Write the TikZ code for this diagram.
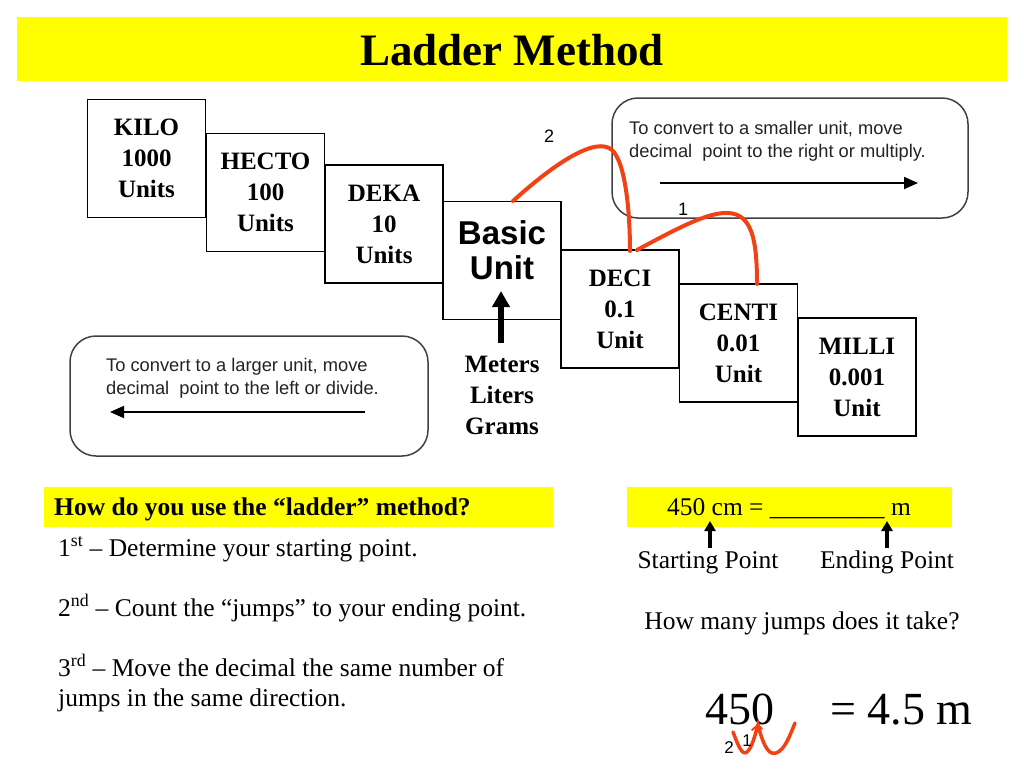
\documentclass[tikz,border=0pt]{standalone}
\usepackage{fontspec}
\setmainfont{Liberation Serif}
\newfontfamily\arialfont{Liberation Sans}
\usetikzlibrary{arrows.meta}
\definecolor{hilite}{RGB}{255,255,0}
\definecolor{jumpred}{RGB}{240,66,20}
\definecolor{notegray}{RGB}{64,64,64}
\definecolor{notetext}{RGB}{35,35,35}
\begin{document}
\begin{tikzpicture}[x=1pt,y=-1pt,
  ladder/.style={draw=black, line width=1.6pt, fill=white, inner sep=0pt,
    minimum width=118pt, minimum height=118pt, align=center,
    font=\fontsize{25}{31}\selectfont\bfseries},
  callout/.style={draw=notegray, line width=1.5pt, rounded corners=26pt,
    minimum width=#1, minimum height=120pt, inner sep=0pt},
  notetxt/.style={anchor=north west, inner sep=0pt, align=left, text=notetext,
    font=\arialfont\fontsize{18.3}{23}\selectfont},
  bar/.style={fill=hilite, draw=none, inner sep=0pt},
  jump/.style={draw=jumpred, line width=4pt, line cap=round},
  jumpnum/.style={inner sep=0pt, font=\arialfont\fontsize{18}{18}\selectfont},
  body/.style={inner sep=0pt, anchor=base west, font=\fontsize{25.5}{30}\selectfont},
  bodyc/.style={inner sep=0pt, anchor=base, font=\fontsize{25.5}{30}\selectfont},
  thinarrow/.style={line width=1.8pt, -{Triangle[width=12pt,length=14pt]}},
  fatarrow/.style={line width=6pt, -{Triangle[width=17pt,length=16pt]}},
  smallarrow/.style={line width=3.5pt, -{Triangle[width=11pt,length=10pt]}}
]
\useasboundingbox (0,0) rectangle (1024,768);

% title bar
\node[bar, minimum width=990pt, minimum height=64pt] (titlebar) at (512,49) {};
\node[inner sep=0pt, anchor=base, font=\fontsize{45}{45}\selectfont\bfseries] (title) at (512,66) {Ladder Method};

% callouts
\node[callout=356pt] (bigger) at (790,158) {};
\node[notetxt] (biggertxt) at (629,121) {To convert to a smaller unit, move\\decimal\ \ point to the right or multiply.};
\coordinate (ra1) at (660,183);
\coordinate (ra2) at (918,183);
\draw[thinarrow] (ra1) -- (ra2);

\node[callout=358pt] (smaller) at (249,396) {};
\node[notetxt] (smallertxt) at (106,358) {To convert to a larger unit, move\\decimal\ \ point to the left or divide.};
\coordinate (la1) at (365,412);
\coordinate (la2) at (110,412);
\draw[thinarrow] (la1) -- (la2);

% ladder
\node[ladder] (kilo) at (146.5,158.5) {KILO\\1000\\Units};
\node[ladder] (hecto) at (265.5,192.5) {HECTO\\100\\Units};
\node[ladder] (deka) at (384,224) {DEKA\\10\\Units};
\node[ladder] (basic) at (502,260.5) {};
\node[inner sep=0pt, align=center, font=\arialfont\bfseries\fontsize{33}{35}\selectfont] (basictxt) at (502,250) {Basic\\Unit};
\node[ladder] (deci) at (620,309) {DECI\\0.1\\Unit};
\node[ladder] (centi) at (738.5,343) {CENTI\\0.01\\Unit};
\node[ladder] (milli) at (857,377) {MILLI\\0.001\\Unit};

\node[inner sep=0pt, align=center, font=\fontsize{25}{31}\selectfont\bfseries] (mlg) at (502,395) {Meters\\Liters\\Grams};
\coordinate (ba1) at (501,343);
\coordinate (ba2) at (501,291);
\draw[fatarrow] (ba1) -- (ba2);

% jumps
\coordinate (j1s) at (513,201);
\coordinate (j1e) at (630,251);
\coordinate (j2s) at (637,250);
\coordinate (j2e) at (757,284);
\draw[jump] (j1s) .. controls (555,163) and (596,136) .. (612,150) .. controls (626,163) and (630,215) .. (j1e);
\draw[jump] (j2s) .. controls (678,228) and (708,212) .. (728,213) .. controls (752,214) and (757,240) .. (j2e);
\node[jumpnum] (n2) at (549,136) {2};
\node[jumpnum] (n1) at (683,209) {1};

% lower left
\node[bar, minimum width=509pt, minimum height=40pt] (qbar) at (298.5,507) {};
\node[body, font=\fontsize{25.5}{30}\selectfont\bfseries] (qtxt) at (54,515) {How do you use the “ladder” method?};
\node[body] (s1) at (58,556) {1\textsuperscript{st} – Determine your starting point.};
\node[body] (s2) at (58,616) {2\textsuperscript{nd} – Count the “jumps” to your ending point.};
\node[body] (s3) at (58,676) {3\textsuperscript{rd} – Move the decimal the same number of};
\node[body] (s4) at (58,706) {jumps in the same direction.};

% lower right
\node[bar, minimum width=325pt, minimum height=40pt] (pbar) at (789,507) {};
\node[bodyc] (prob) at (789,515) {450 cm = \_\_\_\_\_\_\_\_\_ m};
\node[bodyc] (start) at (708,568) {Starting Point};
\node[bodyc] (endp) at (887,568) {Ending Point};
\coordinate (sa1) at (710,548);
\coordinate (sa2) at (710,521);
\coordinate (ea1) at (887,548);
\coordinate (ea2) at (887,521);
\draw[smallarrow] (sa1) -- (sa2);
\draw[smallarrow] (ea1) -- (ea2);
\node[bodyc] (howmany) at (802,629) {How many jumps does it take?};

\node[inner sep=0pt, anchor=base west, font=\fontsize{46}{46}\selectfont] (n450) at (705,724) {450};
\node[inner sep=0pt, anchor=base west, font=\fontsize{46}{46}\selectfont] (ans) at (830,724) {= 4.5 m};
\coordinate (w1) at (733,732);
\coordinate (w2) at (758,725);
\coordinate (w3) at (795,723);
\draw[jump, line width=3.5pt] (w1) .. controls (738,745) and (742,756) .. (747,752) .. controls (752,748) and (755,735) .. (w2) .. controls (762,740) and (767,756) .. (776,753) .. controls (785,750) and (790,735) .. (w3);
\draw[jumpred, line width=2pt, line cap=round] (752,730) -- (w2) -- (762,729);
\node[jumpnum, font=\arialfont\fontsize{17}{17}\selectfont] (m2) at (729,748) {2};
\node[jumpnum, font=\arialfont\fontsize{17}{17}\selectfont] (m1) at (747,741) {1};
\end{tikzpicture}
\end{document}
